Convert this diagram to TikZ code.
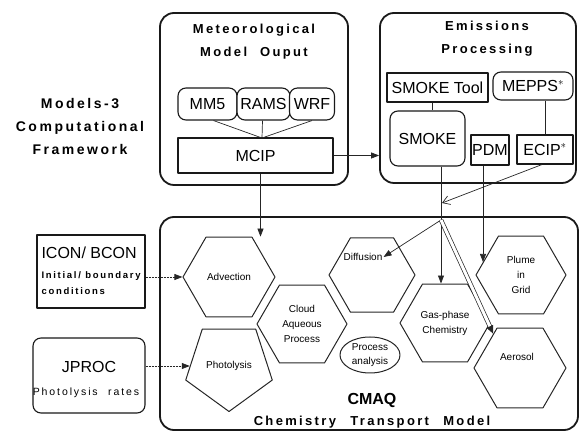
\documentclass[tikz,border=0pt]{standalone}
\usepackage{fontspec}
\setmainfont{Liberation Sans}
\newfontfamily\spacedfont[LetterSpace=18]{Liberation Sans}
\usepackage{tikz}
\usetikzlibrary{shapes.geometric, arrows.meta}
\newcommand{\ttl}[1]{{\spacedfont\bfseries #1}}

\begin{document}
\begin{tikzpicture}[
      x=1pt, y=-1pt,
      line join=round,
      panel/.style={rectangle, rounded corners=14pt, draw=black!90, line width=1.8pt, fill=none},
      box/.style={rectangle, draw=black!90, line width=1.1pt, fill=white, inner sep=2pt,
                  font=\fontsize{16}{18}\selectfont},
      rbox/.style={box, rounded corners=8pt},
      hexa/.style={regular polygon, regular polygon sides=6, draw=black!85, line width=1pt,
                   inner sep=0pt, align=center, font=\fontsize{10}{15}\selectfont},
      penta/.style={regular polygon, regular polygon sides=5, shape border rotate=180,
                    draw=black!85, line width=1pt, inner sep=0pt, align=center,
                    font=\fontsize{10}{15}\selectfont},
      title/.style={align=center, font=\fontsize{13}{23}\selectfont},
      lbl/.style={align=center, font=\fontsize{10}{15}\selectfont, inner sep=1pt},
      link/.style={draw=black!85, line width=0.7pt},
      arr/.style={link, -{Triangle[length=8pt, width=6pt]}},
      darr/.style={arr, dash pattern=on 2pt off 1pt},
      barb/.style={link, -{Straight Barb[length=7pt, width=9pt]}},
      dbl/.style={-{Triangle[length=8pt, width=7pt]}, draw=black!85, line width=0.7pt,
                  double=white, double distance=3pt},
    ]
    \useasboundingbox (0,0) rectangle (582,435);

    % framework label
    \node[title, font=\fontsize{14}{23}\selectfont] (fw) at (80,126)
         {\ttl{Models-3}\\\ttl{Computational}\\\ttl{Framework}};

    % meteorology
    \node[panel, minimum width=188pt, minimum height=172pt] (met) at (254,99) {};
    \node[title] (mett) at (254,42) {\ttl{Meteorological}\\\ttl{Model\quad Ouput}};
    \node[rbox, minimum width=59pt, minimum height=32pt] (mm5)  at (207.5,104) {MM5};
    \node[rbox, minimum width=53pt, minimum height=32pt] (rams) at (263.5,104) {RAMS};
    \node[rbox, minimum width=45pt, minimum height=32pt] (wrf)  at (312,104) {WRF};
    \node[box, minimum width=155pt, minimum height=35pt] (mcip) at (255.5,155.5) {MCIP};
    \coordinate (mrg) at (262,138);
    \draw[link] ([xshift=6pt]mm5.south) -- (mrg);
    \draw[link] ([xshift=-1pt]rams.south) -- (mrg);
    \draw[link] (wrf.south) -- (mrg);

    % emissions
    \node[panel, minimum width=196pt, minimum height=170pt] (emis) at (478,98) {};
    \node[title] (emist) at (487,39) {\ttl{Emissions}\\\ttl{Processing}};
    \node[box, minimum width=101pt, minimum height=29pt] (tool) at (437.5,87.5) {SMOKE Tool};
    \node[rbox, minimum width=80pt, minimum height=28pt] (mepps) at (533,86) {MEPPS$^{*}$};
    \node[rbox, minimum width=75pt, minimum height=55pt] (smoke) at (427.5,138.5) {SMOKE};
    \node[box, minimum width=38pt, minimum height=30pt, inner sep=0pt] (pdm) at (490,150) {PDM};
    \node[box, minimum width=56pt, minimum height=29pt] (ecip) at (545,149.5) {ECIP$^{*}$};
    \draw[link] ([xshift=-5pt]tool.south) -- ([xshift=5pt]smoke.north);
    \draw[link] (mepps.south -| ecip.north) -- (ecip.north);
    \draw[arr] (mcip.east) -- (mcip.east -| emis.west);

    % CMAQ
    \node[panel, minimum width=418pt, minimum height=213pt] (cmaq) at (369,323.5) {};
    \node[font=\fontsize{16}{18}\selectfont\bfseries] (cmaqt) at (372,400) {CMAQ};
    \node[title] (ctm) at (372,422) {\ttl{Chemistry}\hspace{1.1em}\ttl{Transport}\hspace{1.1em}\ttl{Model}};

    \node[hexa, minimum size=92pt] (adv)   at (229,277) {Advection};
    \node[penta, minimum size=91pt] (phot) at (229,366) {Photolysis};
    \node[hexa, minimum size=90pt] (cloud) at (302,324) {Cloud\\Aqueous\\Process};
    \node[hexa, minimum size=86pt] (diff)  at (372,275) {};
    \node[lbl] (difft) at (363,257) {Diffusion};
    \node[ellipse, draw=black!85, line width=1pt, minimum width=60pt, minimum height=36pt,
          inner sep=0pt, align=center, font=\fontsize{10}{14}\selectfont] (proc) at (370,355)
          {Process\\analysis};
    \node[hexa, minimum size=90pt] (gas)   at (445,323) {Gas-phase\\Chemistry};
    \node[hexa, minimum size=90pt] (plume) at (521,275) {Plume\\in\\Grid};
    \node[hexa, minimum size=92pt] (aer)   at (520,368) {};
    \node[lbl] (aert) at (517,357) {Aerosol};

    % inputs
    \node[box, minimum width=108pt, minimum height=73pt] (icon) at (91,271.5) {};
    \node[anchor=west, font=\fontsize{16}{18}\selectfont] (icont) at (38,253) {ICON/ BCON};
    \node[anchor=north west, align=left, font=\fontsize{9.5}{16}\selectfont\spacedfont\bfseries]
         (iconl) at (38,268) {Initial/ boundary\\conditions};
    \node[rbox, minimum width=112pt, minimum height=75pt] (jproc) at (89,375.5) {};
    \node[font=\fontsize{16}{18}\selectfont] (jprct) at (89,367) {JPROC};
    \node[font=\fontsize{10.5}{12}\selectfont\spacedfont] (jprcl) at (86,393) {Photolysis\quad rates};

    % flows
    \coordinate (jn) at (441,220);
    \coordinate (ecipin) at (442,203);
    \coordinate (pdmend) at (483,262);
    \draw[arr] ([xshift=5pt]mcip.south) -- ([xshift=5pt]mcip.south |- adv.north);
    \draw[darr] (icon.east |- adv.west) -- (adv.west);
    \draw[darr] (jproc.east |- phot.west) -- (phot.west);
    \draw[barb] ([xshift=-3pt]ecip.south) -- (ecipin);
    \draw[link] (smoke.south -| jn) -- (jn);
    \draw[arr] (jn) -- (difft.east);
    \draw[arr] (jn) -- (jn |- gas.north);
    \draw[dbl] (jn) -- (aer.128);
    \draw[arr] ([xshift=-7pt]pdm.south) -- (pdmend);
  \end{tikzpicture}
\end{document}
